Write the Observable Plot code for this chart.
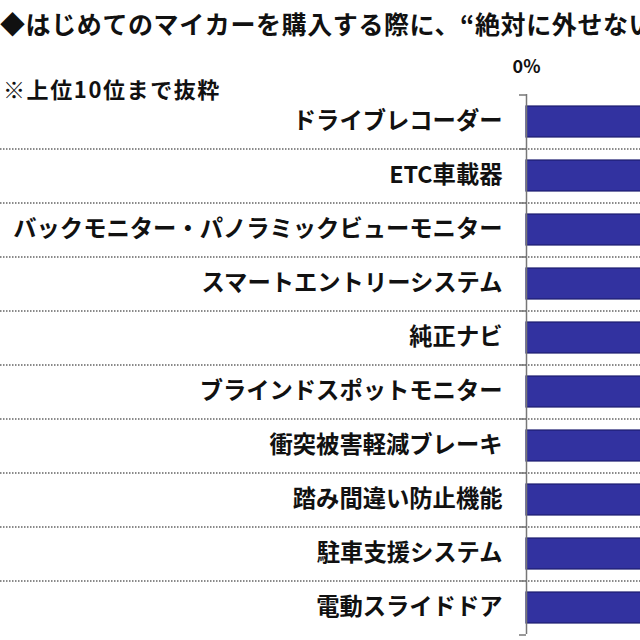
<!DOCTYPE html>
<html>
<head>
<meta charset="utf-8">
<script src="https://cdn.jsdelivr.net/npm/d3@7"></script>
<script src="https://cdn.jsdelivr.net/npm/@observablehq/plot@0.6"></script>
<style>
  html, body { margin: 0; padding: 0; width: 640px; height: 640px; overflow: hidden; background: #fff; }
  body { position: relative; font-family: "Noto Sans CJK JP", "Noto Sans", sans-serif; }
  #title { position: absolute; left: 0; top: 5px; font-size: 25px; font-weight: bold; white-space: nowrap; color: #111; line-height: 36px; letter-spacing: 0.6px; }
  #note { position: absolute; left: 3px; top: 72px; font-size: 22px; font-weight: bold; white-space: nowrap; color: #111; line-height: 32px; letter-spacing: 1.6px; }
  #chart { position: absolute; left: 0; top: 0; }
  #chart svg { max-width: none !important; }
</style>
</head>
<body>
<div id="chart"></div>
<div id="title">◆はじめてのマイカーを購入する際に、“絶対に外せない”と思う装備［複数回答形式］</div>
<div id="note">※上位10位まで抜粋</div>
<script>
const categories = [
  "ドライブレコーダー",
  "ETC車載器",
  "バックモニター・パノラミックビューモニター",
  "スマートエントリーシステム",
  "純正ナビ",
  "ブラインドスポットモニター",
  "衝突被害軽減ブレーキ",
  "踏み間違い防止機能",
  "駐車支援システム",
  "電動スライドドア"
];
const values = [47.0, 40.5, 36.0, 31.5, 29.0, 26.5, 24.5, 22.0, 19.5, 17.0];
const xTicks = [0, 10, 20, 30, 40, 50];

const data = categories.map((c, i) => ({ category: c, value: values[i] }));
const lastCat = categories[categories.length - 1];
const HALF = 27;

const plot = Plot.plot({
  width: 1310,
  height: 640,
  marginLeft: 526,
  marginRight: 34,
  marginTop: 94,
  marginBottom: 6,
  style: { fontFamily: "'Noto Sans CJK JP', 'Noto Sans', sans-serif", background: "transparent" },
  x: { domain: [0, 50], axis: null },
  y: { domain: categories, paddingInner: 0.43, paddingOuter: 0.215, axis: null },
  marks: [
    // dotted separators between rows, spanning the whole width
    Plot.ruleY(categories.slice(1), { y: d => d, dy: -HALF, stroke: "#8a8a8a", strokeWidth: 2, strokeDasharray: "1.5,1.5", insetLeft: -526 }),
    Plot.barX(data, { y: "category", x: "value", fill: "#3232a0", stroke: "#1c1c6e", strokeWidth: 1.2 }),
    // vertical axis line
    Plot.ruleX([0], { stroke: "#777", strokeWidth: 1.5 }),
    // small tick marks at row boundaries
    Plot.ruleY(categories, { y: d => d, x1: 0, x2: 0, dy: -HALF, insetLeft: -7, stroke: "#777", strokeWidth: 1.5 }),
    Plot.ruleY([lastCat], { y: d => d, x1: 0, x2: 0, dy: HALF, insetLeft: -7, stroke: "#777", strokeWidth: 1.5 }),
    // category labels
    Plot.axisY({ anchor: "left", tickSize: 0, tickPadding: 24, fontSize: 23.3, fontWeight: "bold", fill: "#111", label: null }),
    // top x axis
    Plot.axisX({ anchor: "top", ticks: xTicks, tickFormat: d => d + "%", tickSize: 0, tickPadding: 22, fontSize: 18, fontWeight: "bold", fill: "#111", label: null })
  ]
});
plot.style.maxWidth = "none";
document.getElementById("chart").appendChild(plot);
</script>
</body>
</html>
